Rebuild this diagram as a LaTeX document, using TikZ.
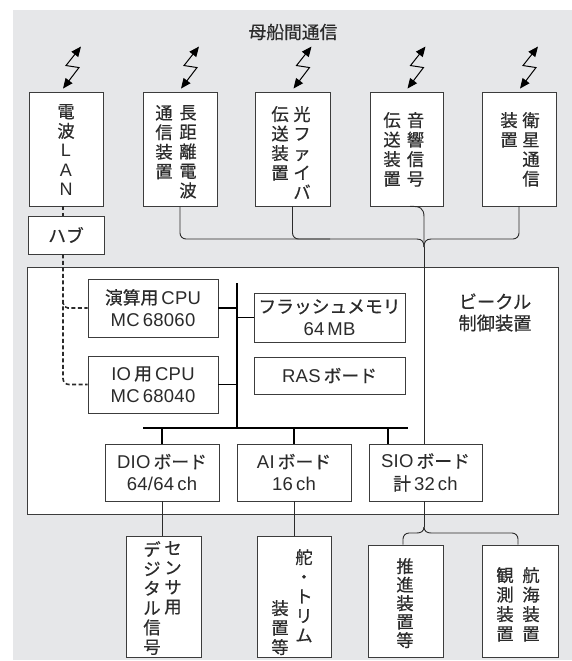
\documentclass[tikz,border=0pt]{standalone}
\usepackage{fontspec}
\setmainfont{Liberation Sans}[LetterSpace=1.5]
\newfontfamily\jpf{Noto Sans CJK JP}[Scale=0.96,FakeBold=0.5]
\newcommand\jp[1]{{\jpf #1}}
\usetikzlibrary{arrows.meta}
\definecolor{bgc}{HTML}{E6E7E9}
\definecolor{lnc}{HTML}{2B2B2B}
\definecolor{bxc}{HTML}{3C3C3C}
\begin{document}
\begin{tikzpicture}[x=1pt,y=-1pt,
  box/.style={draw=bxc, fill=white, line width=0.9pt, inner sep=0pt, align=center,
    font=\fontsize{18.5}{22.5}\selectfont, text=lnc},
  vcol/.style={inner sep=0pt, anchor=north, align=center,
    font=\jpf\fontsize{18}{19.5}\selectfont, text=lnc},
  conn/.style={draw=lnc, line width=0.9pt},
  bus/.style={draw=black, line width=2pt},
  busthin/.style={draw=black, line width=1.5pt},
  lanlink/.style={draw=lnc, line width=1.6pt, dash pattern=on 4pt off 2.5pt},
  bolt/.style={draw=black, line width=1pt,
    {Triangle[length=10pt,width=8.5pt]}-{Triangle[length=10pt,width=8.5pt]}},
]
\useasboundingbox (0,0) rectangle (572,661);
\fill[bgc] (13,10) rectangle (572,660);

\node[font=\jpf\fontsize{18.5}{20}\selectfont, text=lnc] (title) at (293,32) {母船間通信};

% top boxes
\node[box, minimum width=74pt, minimum height=114pt] (lan) at (66,149) {};
\node[box, minimum width=74pt, minimum height=114pt] (lr)  at (180,149) {};
\node[box, minimum width=75pt, minimum height=114pt] (opt) at (292.5,149) {};
\node[box, minimum width=73pt, minimum height=114pt] (aco) at (406.5,149) {};
\node[box, minimum width=74pt, minimum height=114pt] (sat) at (519,149) {};

\node[vcol] (lanT) at (66,104) {電\\波\\{\rmfamily L}\\{\rmfamily A}\\{\rmfamily N}};
\node[vcol] (lrR) at (188,105) {長\\距\\離\\電\\波};
\node[vcol] (lrL) at (164,105) {通\\信\\装\\置};
\node[vcol] (optR) at (302,106) {光\\フ\\ァ\\イ\\バ};
\node[vcol] (optL) at (280,106) {伝\\送\\装\\置};
\node[vcol] (acoR) at (415.5,112) {音\\響\\信\\号};
\node[vcol] (acoL) at (392,112) {伝\\送\\装\\置};
\node[vcol] (satR) at (531,112) {衛\\星\\通\\信};
\node[vcol] (satL) at (509,112) {装\\置};

% bolts
\draw[bolt] ([xshift=-3pt,yshift=3pt]lan.north) -- ++(16,-21) -- ++(-13,-2) -- ++(15,-19);
\foreach \n in {lr,opt,aco,sat}
  \draw[bolt] ([xshift=1pt,yshift=3pt]\n.north) -- ++(16,-21) -- ++(-13,-2) -- ++(15,-19);

% hub
\node[box, minimum width=76pt, minimum height=38pt] (hub) at (66,235) {\jp{ハブ}};

% control unit
\node[box, minimum width=531pt, minimum height=247pt] (ctrl) at (292.5,390.5) {};
\node[font=\jpf\fontsize{19}{21.5}\selectfont, align=center, text=lnc] (ctrlT) at (495,312.5) {ビークル\\制御装置};

\node[box, minimum width=130pt, minimum height=58pt] (cpu1) at (153,308) {\jp{演算用}\,CPU\\MC\,68060};
\node[box, minimum width=130pt, minimum height=57pt] (cpu2) at (153,384.5) {IO\,\jp{用}\,CPU\\MC\,68040};
\node[box, minimum width=151pt, minimum height=49pt] (flash) at (329.5,317.5) {\jp{フラッシュメモリ}\\64\,MB};
\node[box, minimum width=151pt, minimum height=37pt] (ras) at (329.5,375.5) {RAS\,\jp{ボード}};
\node[box, minimum width=114pt, minimum height=57pt] (dio) at (162,472.5) {DIO\,\jp{ボード}\\64/64\,ch};
\node[box, minimum width=114pt, minimum height=57pt] (ai) at (294,472.5) {AI\,\jp{ボード}\\16\,ch};
\node[box, minimum width=113pt, minimum height=57pt] (sio) at (425.5,472.5) {SIO\,\jp{ボード}\\\jp{計}\,32\,ch};

% bottom boxes
\node[box, minimum width=75pt, minimum height=121pt] (sensor) at (163.5,596.5) {};
\node[box, minimum width=74pt, minimum height=121pt] (rudder) at (294,596.5) {};
\node[box, minimum width=75pt, minimum height=112pt] (prop) at (405.5,601) {};
\node[box, minimum width=76pt, minimum height=112pt] (nav) at (520,601) {};

\node[vcol] (senR) at (173,541) {セ\\ン\\サ\\用};
\node[vcol] (senL) at (152,541) {デ\\ジ\\タ\\ル\\信\\号};
\node[vcol] (rudR) at (304,549) {舵\\・\\ト\\リ\\ム};
\node[vcol] (rudL) at (280,600) {装\\置\\等};
\node[vcol, font=\jpf\fontsize{18}{18.5}\selectfont] (propT) at (405,558) {推\\進\\装\\置\\等};
\node[vcol] (navR) at (531,567) {航\\海\\装\\置};
\node[vcol] (navL) at (505,567) {観\\測\\装\\置};

% internal bus
\coordinate (busTop) at (237,283);
\coordinate (busBot) at (237,428);
\coordinate (busL) at (143,428);
\coordinate (busR) at (408,428);
\draw[bus] (busTop) -- (busBot);
\draw[bus] (busL) -- (busR);
\draw[busthin] (cpu1.east) -- (cpu1.east -| busTop);
\draw[busthin] (cpu2.east) -- (cpu2.east -| busTop);
\draw[busthin] (flash.west) -- (flash.west -| busTop);
\draw[busthin] (dio.north) -- (dio.north |- busL);
\draw[busthin] (ai.north) -- (ai.north |- busL);
\draw[busthin] ([xshift=-37.5pt]sio.north) -- ([xshift=-37.5pt]sio.north |- busL);

% LAN dashed links
\draw[lanlink] ([xshift=-3pt]lan.south) -- ([xshift=-3pt]hub.north);
\draw[lanlink, rounded corners=6pt] ([xshift=-3pt]hub.south) |- (cpu2.west);
\draw[lanlink, rounded corners=5pt] (63,301) |- (cpu1.west);

% communication tree (top)
\coordinate (topJ) at (424,247);
\draw[conn, rounded corners=6pt] (lr.south) |- (417,239);
\draw[conn] (417,239) .. controls (422,239) and (424,242) .. (topJ);
\draw[conn, rounded corners=6pt] (opt.south) |- (330,239);
\draw[conn, rounded corners=6pt] (sat.south) |- (431,239);
\draw[conn] (431,239) .. controls (426,239) and (424,242) .. (topJ);
\draw[conn] ([xshift=3.5pt]aco.south) .. controls (420,206) and (424,208) .. (424,217) -- (topJ);
\draw[conn] (topJ) -- (topJ |- sio.north);

% bottom tree
\coordinate (botJ) at (424,527);
\draw[conn] (sio.south -| topJ) -- (botJ);
\draw[conn] (botJ) .. controls (424,531) and (421,533) .. (417,533);
\draw[conn, rounded corners=6pt] (417,533) -| ([xshift=-2.5pt]prop.north);
\draw[conn] (botJ) .. controls (424,531) and (427,533) .. (431,533);
\draw[conn, rounded corners=6pt] (431,533) -| ([xshift=-2pt]nav.north);
\draw[conn] (dio.south) -- (dio.south |- sensor.north);
\draw[conn] (ai.south) -- (rudder.north);
\end{tikzpicture}
\end{document}
